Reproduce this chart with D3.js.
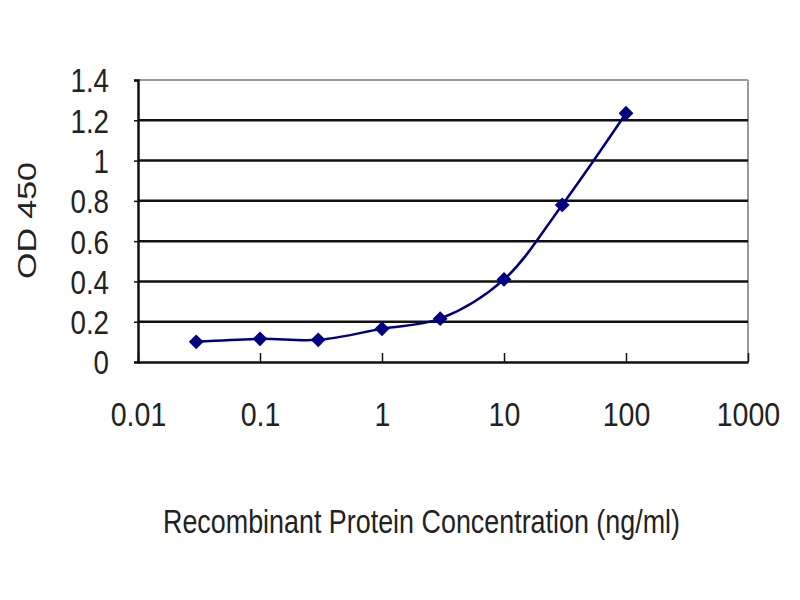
<!DOCTYPE html>
<html lang="en">
<head>
<meta charset="UTF-8" />
<title>OD 450 vs Recombinant Protein Concentration</title>
<script src="https://d3js.org/d3.v7.min.js"></script>
<style>
  body { margin: 0; background: #fff; }
  svg { display: block; font-family: "Liberation Sans", Arial, sans-serif; }
</style>
</head>
<body>
<svg id="chart" width="800" height="600"></svg>
<script>
// concentration (ng/ml) and measured OD 450
const concentrations = [0.03, 0.1, 0.3, 1, 3, 10, 30, 100];
const odValues = [0.10, 0.115, 0.11, 0.165, 0.215, 0.41, 0.78, 1.235];
const xTicks = [0.01, 0.1, 1, 10, 100, 1000];
const xTickLabels = ["0.01", "0.1", "1", "10", "100", "1000"];
const yTicks = [0, 0.2, 0.4, 0.6, 0.8, 1, 1.2, 1.4];
const yTickLabels = ["0", "0.2", "0.4", "0.6", "0.8", "1", "1.2", "1.4"];

const margin = { top: 80, right: 52, bottom: 238, left: 138 };
const width = 800 - margin.left - margin.right;
const height = 600 - margin.top - margin.bottom;
const squeeze = 0.84; // tick labels in the original look horizontally compressed

const svg = d3.select("#chart");
const g = svg.append("g")
  .attr("transform", "translate(" + margin.left + "," + margin.top + ")");

const x = d3.scaleLog().domain([0.01, 1000]).range([0, width]);
const y = d3.scaleLinear().domain([0, 1.4]).range([height, 0]);

// outer frame (top and right in grey)
g.append("line")
  .attr("x1", 0).attr("x2", width).attr("y1", 0).attr("y2", 0)
  .attr("stroke", "#999").attr("stroke-width", 2);
g.append("line")
  .attr("x1", width).attr("x2", width).attr("y1", 0).attr("y2", height)
  .attr("stroke", "#999").attr("stroke-width", 2);

// horizontal gridlines
g.selectAll(".grid")
  .data(yTicks.filter(d => d > 0 && d < 1.4))
  .join("line")
  .attr("class", "grid")
  .attr("x1", 0).attr("x2", width)
  .attr("y1", d => y(d)).attr("y2", d => y(d))
  .attr("stroke", "#111").attr("stroke-width", 2.5);

// y axis
const yAxis = g.append("g")
  .call(d3.axisLeft(y).tickValues(yTicks).tickSize(4).tickFormat((d, i) => yTickLabels[i]));
yAxis.select(".domain").attr("stroke", "#111").attr("stroke-width", 2.5);
yAxis.selectAll(".tick line").attr("stroke", "#111").attr("stroke-width", 1.5);
yAxis.selectAll(".tick text")
  .attr("transform", "scale(" + squeeze + ",1)")
  .attr("x", -29 / squeeze)
  .attr("dy", "0.36em")
  .style("font-size", "33px")
  .attr("fill", "#222");

// x axis
const xAxis = g.append("g")
  .attr("transform", "translate(0," + height + ")")
  .call(d3.axisBottom(x).tickValues(xTicks).tickSizeInner(-9).tickSizeOuter(0)
    .tickFormat((d, i) => xTickLabels[i]));
xAxis.select(".domain").attr("stroke", "#111").attr("stroke-width", 2.5);
xAxis.selectAll(".tick line").attr("stroke", "#111").attr("stroke-width", 1.5);
xAxis.selectAll(".tick text")
  .attr("transform", "scale(" + squeeze + ",1)")
  .attr("y", 52)
  .attr("dy", "0.36em")
  .style("font-size", "34px")
  .attr("fill", "#222");

// curve
const points = concentrations.map((c, i) => ({ c: c, v: odValues[i] }));
const line = d3.line()
  .curve(d3.curveCatmullRom.alpha(0.5))
  .x(d => x(d.c))
  .y(d => y(d.v));
g.append("path")
  .datum(points)
  .attr("fill", "none")
  .attr("stroke", "#000080")
  .attr("stroke-width", 2.5)
  .attr("d", line);

g.selectAll(".pt")
  .data(points)
  .join("path")
  .attr("class", "pt")
  .attr("transform", d => "translate(" + x(d.c) + "," + y(d.v) + ") rotate(45)")
  .attr("d", d3.symbol().type(d3.symbolSquare).size(110))
  .attr("fill", "#000080");

// axis titles
svg.append("text")
  .attr("transform", "translate(36," + (margin.top + height / 2) + ") rotate(-90)")
  .attr("x", -58)
  .attr("textLength", 117)
  .attr("lengthAdjust", "spacingAndGlyphs")
  .style("font-size", "26px")
  .attr("fill", "#222")
  .text("OD 450");

svg.append("text")
  .attr("x", 163)
  .attr("y", 533)
  .attr("textLength", 517)
  .attr("lengthAdjust", "spacingAndGlyphs")
  .style("font-size", "33px")
  .attr("fill", "#222")
  .text("Recombinant Protein Concentration (ng/ml)");
</script>
</body>
</html>
